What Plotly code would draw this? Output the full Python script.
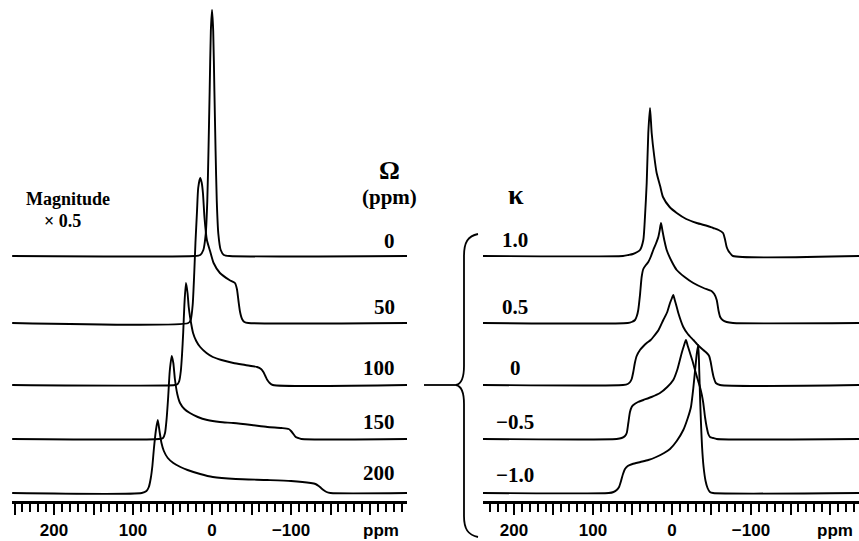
import plotly.graph_objects as go

# ---------------- data ----------------
# Left panel: powder patterns for spans Omega (ppm), intensities in arbitrary units
omega_labels = ["0", "50", "100", "150", "200"]

om0_ppm = [253, 22, 15, 11, 8, 6, 4.5, 3, 1.5, 0, -1.5, -3, -4.5, -6, -8, -11, -15, -22, -250]
om0_int = [0, 0, 1, 6, 22, 55, 105, 165, 225, 246, 225, 165, 105, 55, 22, 6, 1, 0, 0]

om50_ppm = [253, 30, 27, 24.5, 22.5, 21, 19, 17.5, 15, 13, 11.5, 9.5, 6.5, 2.5, -2, -10, -22, -29,
            -31.5, -33.5, -35.5, -38, -41, -46, -250]
om50_int = [0, 0, 3, 18, 50, 80, 112, 135, 145, 140, 130, 105, 83, 72, 60, 50, 43, 40,
            34, 22, 11, 4, 1, 0, 0]

om100_ppm = [253, 47, 43.5, 41.5, 39.5, 38, 36.5, 35, 33, 31, 29.5, 27.8, 24, 20, 15, 7, -1, -12, -27,
             -42, -57, -62, -65, -67.5, -70, -73, -77, -250]
om100_int = [0, 0, 1, 4, 14, 30, 52, 80, 102, 92, 78, 68, 52, 44, 38, 32, 28, 25, 22,
             20, 18, 16, 13, 9, 5, 2, 0, 0]

om150_ppm = [253, 67, 62, 59.5, 57.5, 55.5, 53.5, 51, 49, 47, 44, 40.5, 35, 28, 18, 6, -10, -27, -50,
             -70, -88, -97, -100, -103, -106, -109, -113, -250]
om150_int = [0, 0, 1, 6, 20, 42, 68, 83, 76, 60, 45, 36, 30, 26, 22, 19, 17, 16, 14,
             12, 11, 10, 8, 5, 2, 1, 0, 0]

om200_ppm = [253, 89, 83, 80, 77.5, 75.5, 73.5, 71, 68.7, 66.5, 64, 61, 56, 49, 40, 31, 15, -1, -30,
             -70, -100, -125, -131, -135, -138, -141, -145, -150, -250]
om200_int = [0, 0, 2, 6, 15, 27, 45, 63, 73, 62, 50, 42, 35, 30, 26, 23, 19, 16, 14,
             13, 12, 10, 9, 7, 5, 3, 1, 0, 0]

# Right panel: powder patterns for skews kappa
kappa_labels = ["1.0", "0.5", "0", "\u22120.5", "\u22121.0"]

k10_ppm = [240, 62, 55, 49.4, 44, 40.5, 36.3, 34.2, 32, 30, 27.8, 25.7, 22.5, 19.4, 15, 11.4, 3, -6, -18,
           -31.3, -45, -52, -59, -64.6, -67, -69.2, -71.5, -73.4, -77.2, -240]
k10_int = [0, 0, 1, 2, 4, 6, 16, 39, 73, 123, 148, 123, 100, 83, 70, 59, 49, 43, 37,
           33, 30, 28, 26, 23, 17, 9, 5, 3, 0, 0]

k05_ppm = [240, 56, 51, 46.8, 44.5, 42.7, 40.5, 38.4, 36.3, 33, 30, 27, 23.7, 20.5, 17.3, 15.5, 13.9, 12,
           9.5, 6.7, 0, -6, -16, -27, -40, -50, -53.5, -56.6, -59, -61, -64, -69.2, -77.2, -240]
k05_int = [0, 0, 1, 3, 7, 13, 28, 46, 54, 58, 61, 66, 73, 79, 86, 93, 100, 92,
           82, 73, 61, 53, 46, 40, 35, 32, 29, 23, 12, 6, 3, 1, 0, 0]

k00_ppm = [240, 62, 56, 53, 51, 49, 47, 44.7, 40.5, 36, 32, 27, 23.7, 17, 11, 6, 2.5, 0, -1.6, -3.5, -6,
           -8, -14.3, -20, -27, -34, -39.6, -44, -47, -49, -51, -53, -55.5, -60.8, -240]
k00_int = [0, 0, 1, 3, 6, 13, 22, 29, 35, 39, 42, 45, 48, 55, 65, 73, 82, 87, 90, 85, 78,
           72, 58, 51, 45, 39, 35, 32, 29, 23, 14, 7, 2, 0, 0]

km05_ppm = [240, 70, 63.7, 59.5, 57.3, 55.3, 53.2, 51, 48.9, 43, 36.3, 26, 15.2, 6, -1.6, -7, -12.3, -15,
            -17.7, -20, -22.8, -26, -29.1, -32, -35.4, -37.8, -39.6, -41.8, -43.9, -46, -48.1, -52,
            -56.6, -240]
km05_int = [0, 0, 1, 3, 6, 16, 27, 32, 34, 37, 39, 42, 46, 52, 59, 70, 86, 93,
            99, 93, 86, 78, 69, 61, 52, 44, 36, 22, 12, 5, 2, 1,
            0, 0]

km10_ppm = [240, 80, 74, 70, 67, 64.5, 62, 59.5, 56, 50, 40, 30, 20, 10, 2.5, -6, -14.3, -20, -24, -27,
            -29.5, -31.5, -33.3, -34.5, -35.5, -36.6, -38, -40, -42.5, -45, -48, -52, -240]
km10_int = [0, 0, 1, 3, 6, 12, 19, 24, 27, 29, 31, 33, 36, 40, 44, 52, 63, 75, 86, 105,
            125, 140, 148, 122, 96, 72, 47, 26, 12, 5, 1, 0, 0]

# vertical stacking of the five traces (top to bottom), in intensity units
stack_offsets = [245, 178, 116, 62, 8]

# axis ticks
tick_vals = [250, 200, 150, 100, 50, 0, -50, -100, -150, -200, -250]
tick_text = ["", "200", "", "100", "", "0", "", "\u2212100", "", "", ""]

left_series = [(om0_ppm, om0_int), (om50_ppm, om50_int), (om100_ppm, om100_int),
               (om150_ppm, om150_int), (om200_ppm, om200_int)]
right_series = [(k10_ppm, k10_int), (k05_ppm, k05_int), (k00_ppm, k00_int),
                (km05_ppm, km05_int), (km10_ppm, km10_int)]

# ---------------- layout helpers ----------------
W, H = 859, 541
B = 40                      # bottom margin (axis line at pixel row H-B)
PLOT_H = H - B


def px(x):
    return x / W


def py(y):
    return (PLOT_H - y) / PLOT_H


fig = go.Figure()
line_style = dict(color="black", width=1.9, shape="spline", smoothing=0.6)

for (xs, ys), off in zip(left_series, stack_offsets):
    fig.add_trace(go.Scatter(x=xs, y=[v + off for v in ys], mode="lines",
                             line=line_style, xaxis="x", yaxis="y",
                             hoverinfo="skip", showlegend=False))
for (xs, ys), off in zip(right_series, stack_offsets):
    fig.add_trace(go.Scatter(x=xs, y=[v + off for v in ys], mode="lines",
                             line=line_style, xaxis="x2", yaxis="y",
                             hoverinfo="skip", showlegend=False))

axis_common = dict(
    tickmode="array", tickvals=tick_vals, ticktext=tick_text,
    ticks="outside", ticklen=11, tickwidth=1.8, tickcolor="black",
    minor=dict(dtick=10, tick0=0, ticks="outside", ticklen=8, tickwidth=1.6, tickcolor="black"),
    showline=True, linecolor="black", linewidth=2.6,
    showgrid=False, zeroline=False,
    tickfont=dict(family="Liberation Sans", size=17, color="black", weight="bold"),
    ticklabelstandoff=1,
    anchor="y", fixedrange=True,
)

fig.update_layout(
    width=W, height=H,
    margin=dict(l=0, r=0, t=0, b=B),
    paper_bgcolor="white", plot_bgcolor="white",
    xaxis=dict(domain=[px(12), px(407)], range=[253.2, -246.8], **axis_common),
    xaxis2=dict(domain=[px(483), 1.0], range=[239.2, -236.7], **axis_common),
    yaxis=dict(domain=[0, 1], range=[0, PLOT_H], visible=False, fixedrange=True),
)

serif = dict(family="Liberation Serif", color="black", weight="bold")
sans = dict(family="Liberation Sans", color="black", weight="bold")
ann = []


def add_text(text, x, y, font, size, xanchor="center"):
    ann.append(dict(text=text, x=px(x), y=py(y), xref="paper", yref="paper",
                    showarrow=False, xanchor=xanchor, yanchor="middle",
                    font=dict(size=size, **font)))


# "ppm" axis titles
add_text("ppm", 381, 530, sans, 17)
add_text("ppm", 835, 530, sans, 17)

# left panel header and labels
add_text("Magnitude", 68, 199, serif, 18)
add_text("\u00d7 0.5", 63, 221, serif, 18)
add_text("\u03a9", 389, 170, serif, 26)
add_text("(ppm)", 389, 197, serif, 21)
left_label_y = [241, 307, 368, 422, 473]
for lab, yy in zip(omega_labels, left_label_y):
    add_text(lab, 397, yy, serif, 21, xanchor="right")

# right panel header and labels
add_text("\u03ba", 516, 195, serif, 28)
right_label_y = [240, 307, 368, 422, 475]
for lab, yy in zip(kappa_labels, right_label_y):
    add_text(lab, 515, yy, serif, 21)

fig.update_layout(annotations=ann)

# curly brace grouping the kappa traces, with the connector line
def P(x, y):
    return f"{px(x):.5f},{py(y):.5f}"

brace = (f"M {P(478, 234)} C {P(468, 236)} {P(464, 242)} {P(464, 256)} "
         f"L {P(464, 366)} C {P(464, 378)} {P(461, 384)} {P(456, 385)} "
         f"C {P(461, 386)} {P(464, 392)} {P(464, 404)} "
         f"L {P(464, 516)} C {P(464, 529)} {P(468, 535)} {P(478, 537)}")
fig.add_shape(type="path", path=brace, xref="paper", yref="paper",
              line=dict(color="black", width=1.8))
fig.add_shape(type="line", x0=px(424), x1=px(456), y0=py(385), y1=py(385),
              xref="paper", yref="paper", line=dict(color="black", width=1.8))

# remove the default page margin so the figure sits at the window's top-left corner
fig.write_html("out.html",
               config={"displayModeBar": False},
               post_script="document.body.style.margin='0px';document.body.style.overflow='hidden';")
